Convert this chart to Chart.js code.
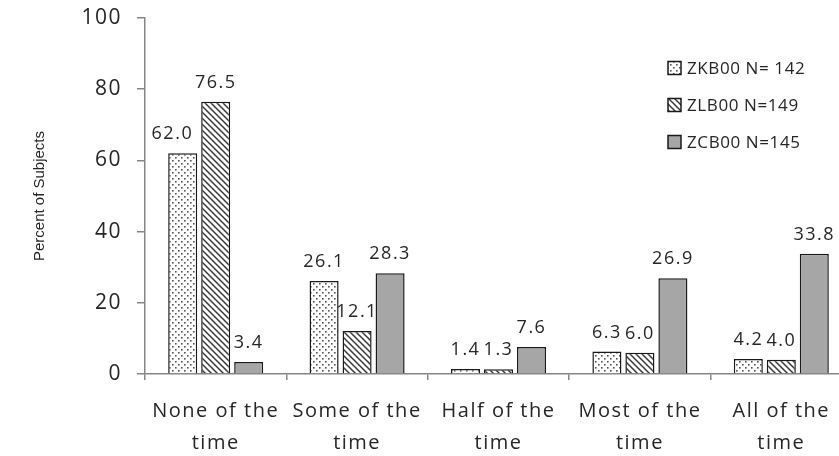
<!DOCTYPE html>
<html>
<head>
<meta charset="utf-8">
<script src="https://cdn.jsdelivr.net/npm/chart.js@4/dist/chart.umd.min.js"></script>
<style>
  html, body { margin: 0; padding: 0; background: #fff; overflow: hidden; width: 839px; height: 456px; }
  #wrap { position: absolute; left: 0; top: 0; width: 860px; height: 456px; }
</style>
</head>
<body>
<div id="wrap"><canvas id="c" width="860" height="456"></canvas></div>
<script>
const categories = [["None of the", "time"], ["Some of the", "time"], ["Half of the", "time"], ["Most of the", "time"], ["All of the", "time"]];
const seriesNames = ["ZKB00 N= 142", "ZLB00 N=149", "ZCB00 N=145"];
const zkb00 = [62.0, 26.1, 1.4, 6.3, 4.2];
const zlb00 = [76.5, 12.1, 1.3, 6.0, 4.0];
const zcb00 = [3.4, 28.3, 7.6, 26.9, 33.8];
const yTicks = [0, 20, 40, 60, 80, 100];
const yTitle = "Percent of Subjects";

const FONT = "'Open Sans', 'Noto Sans', sans-serif";
const TEXT = '#262626';
const AXIS = '#868686';

function dotPattern() {
  const c = document.createElement('canvas');
  c.width = 6; c.height = 6;
  const x = c.getContext('2d');
  x.fillStyle = '#ffffff'; x.fillRect(0, 0, 6, 6);
  x.fillStyle = '#555555';
  x.fillRect(1, 1, 1.6, 1.6);
  x.fillRect(4, 4, 1.6, 1.6);
  return document.getElementById('c').getContext('2d').createPattern(c, 'repeat');
}
function hatchPattern() {
  const c = document.createElement('canvas');
  c.width = 6; c.height = 6;
  const x = c.getContext('2d');
  x.fillStyle = '#ffffff'; x.fillRect(0, 0, 6, 6);
  x.strokeStyle = '#3a3a3a'; x.lineWidth = 1.5;
  x.beginPath();
  x.moveTo(-1, -1); x.lineTo(7, 7);
  x.moveTo(-4, 2); x.lineTo(4, 10);
  x.moveTo(2, -4); x.lineTo(10, 4);
  x.stroke();
  return document.getElementById('c').getContext('2d').createPattern(c, 'repeat');
}
const fills = [dotPattern(), hatchPattern(), '#a6a6a6'];

const spacing = {
  id: 'spacing',
  beforeDraw(chart) { chart.ctx.letterSpacing = '1.5px'; },
  afterDraw(chart) { chart.ctx.letterSpacing = '0px'; }
};

const axisTitle = {
  id: 'axisTitle',
  afterDraw(chart) {
    const ctx = chart.ctx;
    const a = chart.chartArea;
    ctx.save();
    ctx.letterSpacing = '0px';
    ctx.translate(40, (a.top + a.bottom) / 2);
    ctx.rotate(-Math.PI / 2);
    ctx.font = "15px 'Liberation Sans', Arial, sans-serif";
    ctx.fillStyle = TEXT;
    ctx.textAlign = 'center';
    ctx.textBaseline = 'middle';
    ctx.fillText(yTitle, 0, 0);
    ctx.restore();
  }
};

const valueLabels = {
  id: 'valueLabels',
  afterDatasetsDraw(chart) {
    const ctx = chart.ctx;
    ctx.save();
    ctx.letterSpacing = '1.5px';
    ctx.font = '18px ' + FONT;
    ctx.fillStyle = TEXT;
    ctx.textAlign = 'center';
    ctx.textBaseline = 'alphabetic';
    const n = chart.data.datasets.length;
    chart.data.datasets.forEach((ds, i) => {
      const meta = chart.getDatasetMeta(i);
      meta.data.forEach((el, j) => {
        const txt = ds.data[j].toFixed(1);
        const w = ctx.measureText(txt).width;
        const base = el.y - 14;
        let x = el.x;
        const nb = (k) => (k >= 0 && k < n) ? chart.getDatasetMeta(k).data[j] : null;
        const L = nb(i - 1), R = nb(i + 1);
        const hitR = R && R.y < base && (x + w / 2) > (R.x - R.width / 2);
        const hitL = L && L.y < base && (x - w / 2) < (L.x + L.width / 2);
        if (hitR && !hitL) x = R.x - R.width / 2 - 8 - w / 2;
        else if (hitL && !hitR) x = L.x + L.width / 2 + 8 + w / 2;
        ctx.fillText(txt, x, base);
      });
    });
    ctx.restore();
  }
};

const customLegend = {
  id: 'customLegend',
  afterDraw(chart) {
    const ctx = chart.ctx;
    ctx.save();
    ctx.letterSpacing = '0.6px';
    const rowsY = [68, 105, 142];
    chart.data.datasets.forEach((ds, i) => {
      const y = rowsY[i];
      ctx.fillStyle = ds.backgroundColor;
      ctx.fillRect(668, y - 6.5, 13, 13);
      ctx.strokeStyle = '#1a1a1a';
      ctx.lineWidth = 1.5;
      ctx.strokeRect(668, y - 6.5, 13, 13);
      ctx.fillStyle = TEXT;
      ctx.font = '17px ' + FONT;
      ctx.textAlign = 'left';
      ctx.textBaseline = 'middle';
      ctx.fillText(ds.label, 687, y + 1);
    });
    ctx.restore();
  }
};

new Chart(document.getElementById('c'), {
  type: 'bar',
  data: {
    labels: categories,
    datasets: [
      { label: seriesNames[0], data: zkb00, backgroundColor: fills[0] },
      { label: seriesNames[1], data: zlb00, backgroundColor: fills[1] },
      { label: seriesNames[2], data: zcb00, backgroundColor: fills[2] }
    ]
  },
  options: {
    responsive: false,
    animation: false,
    devicePixelRatio: 1,
    layout: { padding: { top: 18, right: 8, bottom: 0, left: 0 } },
    datasets: {
      bar: {
        borderColor: '#1a1a1a',
        borderWidth: 1.5,
        categoryPercentage: 0.70,
        barPercentage: 0.88
      }
    },
    plugins: {
      legend: { display: false },
      tooltip: { enabled: false }
    },
    scales: {
      x: {
        grid: { drawOnChartArea: false, drawTicks: true, tickLength: 6, color: AXIS, lineWidth: 1.5, offset: true },
        border: { color: AXIS, width: 1.5 },
        ticks: { color: TEXT, font: { family: FONT, size: 20, lineHeight: 1.6 }, padding: 15, maxRotation: 0, autoSkip: false },
        afterFit(s) { s.height = 82; s.paddingLeft = 0; s.paddingRight = 0; }
      },
      y: {
        min: 0, max: 100,
        afterBuildTicks(s) { s.ticks = yTicks.map(v => ({ value: v })); },
        grid: { drawOnChartArea: false, drawTicks: true, tickLength: 8, color: AXIS, lineWidth: 1.5 },
        border: { color: AXIS, width: 1.5 },
        ticks: { color: TEXT, font: { family: FONT, size: 21 }, padding: 15 },
        title: { display: false },
        afterFit(s) { s.width = 145; s.paddingTop = 0; s.paddingBottom = 0; }
      }
    }
  },
  plugins: [spacing, valueLabels, customLegend, axisTitle]
});
</script>
</body>
</html>
